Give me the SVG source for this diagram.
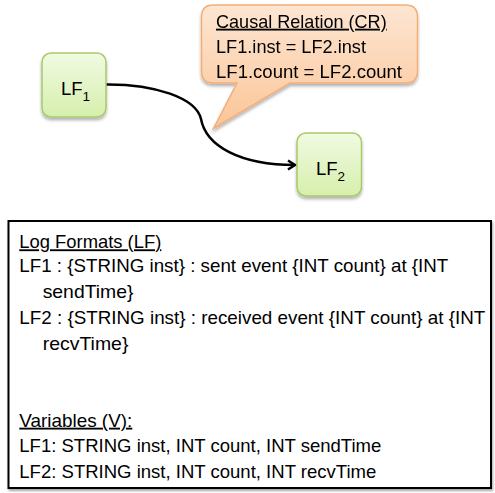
<svg xmlns="http://www.w3.org/2000/svg" width="495" height="493" viewBox="0 0 495 493">
<style>
.t{font-family:"Liberation Sans",Arial,sans-serif;fill:#000}
.node{stroke:#a9c96b;stroke-width:1.5;fill:url(#gGreen)}
.conn{fill:none;stroke:#000;stroke-width:2.5}
</style>
<defs>
<linearGradient id="gGreen" x1="0" y1="0" x2="0" y2="1">
<stop offset="0" stop-color="#f1fae2"/>
<stop offset="1" stop-color="#d6efac"/>
</linearGradient>
<linearGradient id="gOrange" x1="0" y1="0" x2="0" y2="1">
<stop offset="0" stop-color="#fde6d3"/>
<stop offset="1" stop-color="#fbc597"/>
</linearGradient>
<filter id="sh" x="-20%" y="-20%" width="140%" height="150%">
<feDropShadow dx="0" dy="2.5" stdDeviation="1.8" flood-color="#000" flood-opacity="0.3"/>
</filter>
<filter id="sh2" x="-5%" y="-5%" width="110%" height="110%">
<feDropShadow dx="1" dy="2" stdDeviation="1" flood-color="#000" flood-opacity="0.35"/>
</filter>
<marker id="arr" markerWidth="12" markerHeight="12" refX="9" refY="6" orient="auto" markerUnits="userSpaceOnUse">
<path d="M2,1.5 L9,6 L2,10.5" fill="none" stroke="#000" stroke-width="2.5" stroke-linejoin="miter"/>
</marker>
</defs>

<g id="callout-CR" filter="url(#sh)">
<path d="M213.5,5 L405.5,5 Q417.5,5 417.5,17 L417.5,71 Q417.5,83 405.5,83 L290,83 L213.5,128.5 L237,83 L213.5,83 Q201.5,83 201.5,71 L201.5,17 Q201.5,5 213.5,5 Z" fill="url(#gOrange)" stroke="#f3ae78" stroke-width="1.5"/>
<text class="t" x="216" y="27.7" font-size="18.5" textLength="170.7" lengthAdjust="spacingAndGlyphs" text-decoration="underline">Causal Relation (CR)</text>
<text class="t" x="216" y="53.3" font-size="18.5" textLength="150" lengthAdjust="spacingAndGlyphs">LF1.inst = LF2.inst</text>
<text class="t" x="216" y="78.3" font-size="18.5" textLength="186" lengthAdjust="spacingAndGlyphs">LF1.count = LF2.count</text>
</g>

<g id="connectors">
<path class="conn" d="M105.5,84.5 C155,84 196,98 201,119 C206,146 240,165 295,165" marker-end="url(#arr)"/>
</g>

<g id="node-LF1">
<rect class="node" x="42" y="53" width="64" height="64" rx="9" filter="url(#sh)"/>
<text class="t" x="61" y="95" font-size="18.5">LF<tspan font-size="13.5" dy="6">1</tspan></text>
</g>

<g id="node-LF2">
<rect class="node" x="297" y="133" width="64.5" height="63" rx="9" filter="url(#sh)"/>
<text class="t" x="316" y="175" font-size="18.5">LF<tspan font-size="13.5" dy="6">2</tspan></text>
</g>

<g id="legend">
<rect x="8.5" y="221" width="482.5" height="267" fill="#fff" stroke="#000" stroke-width="2" filter="url(#sh2)"/>
<text class="t" x="19.3" y="248.3" font-size="18.5" textLength="142" lengthAdjust="spacingAndGlyphs" text-decoration="underline">Log Formats (LF)</text>
<text class="t" x="19.3" y="272.3" font-size="18.5" textLength="429" lengthAdjust="spacingAndGlyphs">LF1 : {STRING inst} : sent event {INT count} at {INT</text>
<text class="t" x="42.7" y="298.3" font-size="18.5" textLength="90.7" lengthAdjust="spacingAndGlyphs">sendTime}</text>
<text class="t" x="19.3" y="324" font-size="18.5" textLength="466" lengthAdjust="spacingAndGlyphs">LF2 : {STRING inst} : received event {INT count} at {INT</text>
<text class="t" x="42.7" y="350" font-size="18.5" textLength="85.7" lengthAdjust="spacingAndGlyphs">recvTime}</text>
<text class="t" x="19.3" y="426.7" font-size="18.5" textLength="113" lengthAdjust="spacingAndGlyphs" text-decoration="underline">Variables (V):</text>
<text class="t" x="19.3" y="452.3" font-size="18.5" textLength="362" lengthAdjust="spacingAndGlyphs">LF1: STRING inst, INT count, INT sendTime</text>
<text class="t" x="19.3" y="478.3" font-size="18.5" textLength="357" lengthAdjust="spacingAndGlyphs">LF2: STRING inst, INT count, INT recvTime</text>
</g>
</svg>
